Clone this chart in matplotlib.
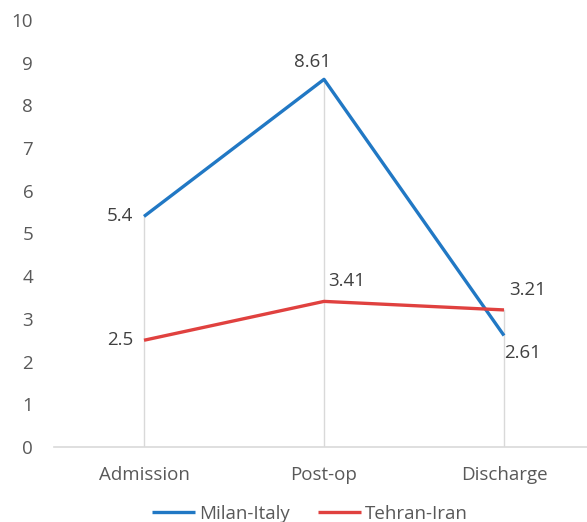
import matplotlib.pyplot as plt

categories = ["Admission", "Post-op", "Discharge"]
milan = [5.4, 8.61, 2.61]
tehran = [2.5, 3.41, 3.21]
y_ticks = list(range(0, 11))

plt.rcParams['font.family'] = ['Open Sans', 'DejaVu Sans']
text_color = '#595959'

fig = plt.figure(figsize=(5.87, 5.22), dpi=100)
ax = fig.add_axes([54 / 587, (522 - 447) / 522, 540 / 587, 427 / 522])

x = list(range(len(categories)))

# lignes verticales (drop lines) comme dans Excel
for i in x:
    ax.plot([i, i], [0, max(milan[i], tehran[i])], color='#d9d9d9', lw=1, zorder=1)

ax.plot(x, milan, color='#2178c4', lw=2.4, label='Milan-Italy', zorder=3, solid_capstyle='butt')
ax.plot(x, tehran, color='#e0413f', lw=2.4, label='Tehran-Iran', zorder=3, solid_capstyle='butt')

# étiquettes de données
fs = 13.5
offsets_m = [(-8, 0, 'right', 'center'), (-8, 6, 'center', 'bottom'), (0, -6, 'left', 'top')]
offsets_t = [(-8, 0, 'right', 'center'), (3, 8, 'left', 'bottom'), (4, 8, 'left', 'bottom')]
for i in x:
    dx, dy, ha, va = offsets_m[i]
    ax.annotate(f"{milan[i]:g}", (i, milan[i]), textcoords='offset points', xytext=(dx, dy),
                ha=ha, va=va, fontsize=fs, color='#404040')
    dx, dy, ha, va = offsets_t[i]
    ax.annotate(f"{tehran[i]:g}", (i, tehran[i]), textcoords='offset points', xytext=(dx, dy),
                ha=ha, va=va, fontsize=fs, color='#404040')

ax.set_xlim(-0.5, 2.5)
ax.set_ylim(0, 10)
ax.set_yticks(y_ticks)
ax.set_xticks(x)
ax.set_xticklabels(categories)
ax.tick_params(axis='both', length=0, labelsize=13.5, colors=text_color)
ax.tick_params(axis='x', pad=14)
ax.tick_params(axis='y', pad=15)
for s in ['top', 'right', 'left']:
    ax.spines[s].set_visible(False)
ax.spines['bottom'].set_color('#d9d9d9')
ax.spines['bottom'].set_linewidth(1.2)

fig.legend(loc='center', bbox_to_anchor=(310 / 587, 1 - 514 / 522), ncol=2, frameon=False,
           fontsize=13.5, handlelength=2.3, handletextpad=0.2, columnspacing=1.5, labelcolor=text_color)

fig.savefig('out.png', dpi=100)
